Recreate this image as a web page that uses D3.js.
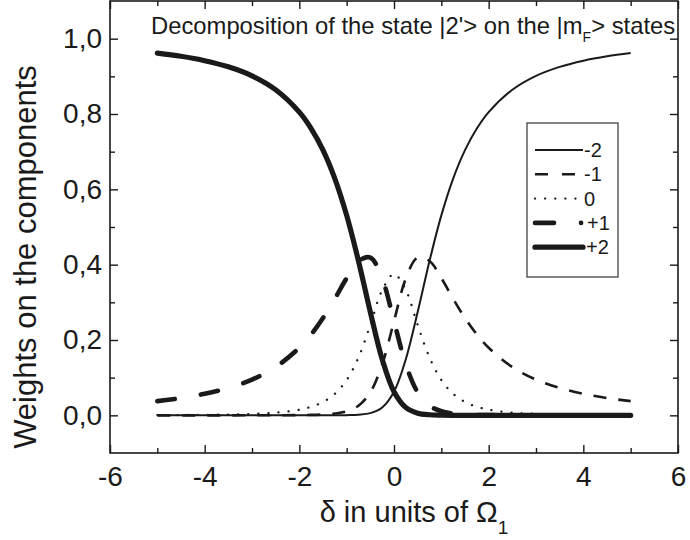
<!DOCTYPE html>
<html>
<head>
<meta charset="utf-8">
<script src="https://cdn.jsdelivr.net/npm/d3@7/dist/d3.min.js"></script>
<style>
  html, body { margin: 0; padding: 0; background: #ffffff; }
  svg { display: block; }
  text { font-family: "Liberation Sans", Arial, Helvetica, sans-serif; fill: #1a1a1a; }
</style>
</head>
<body>
<script>
// Detuning values (in units of Omega_1)
const delta = [-5, -4.5, -4, -3.5, -3, -2.5, -2, -1.75, -1.5, -1.25, -1, -0.75, -0.5, -0.25, 0,
               0.25, 0.5, 0.75, 1, 1.25, 1.5, 1.75, 2, 2.5, 3, 3.5, 4, 4.5, 5];

// Weight of |2'> on each |mF> component
const wMinus2 = [0, 0, 0, 0, 0, 0, 0, 0, 0.0001, 0.0001, 0.0005, 0.0016, 0.0058, 0.0206, 0.0625,
                 0.149, 0.2742, 0.4096, 0.5308, 0.6286, 0.7041, 0.7614, 0.805, 0.8644, 0.9013, 0.9252, 0.9416, 0.9532, 0.9617];
const wMinus1 = [0, 0, 0, 0, 0.0001, 0.0002, 0.0006, 0.0011, 0.0022, 0.0047, 0.0107, 0.0256, 0.0611, 0.135, 0.25,
                 0.3633, 0.4189, 0.4096, 0.3643, 0.3094, 0.2582, 0.2148, 0.1794, 0.1282, 0.0949, 0.0726, 0.0571, 0.0459, 0.0377];
const wZero   = [0.0006, 0.0008, 0.0013, 0.0021, 0.0038, 0.0071, 0.015, 0.0227, 0.0355, 0.0571, 0.0938, 0.1536, 0.24, 0.3322, 0.375,
                 0.3322, 0.24, 0.1536, 0.0938, 0.0571, 0.0355, 0.0227, 0.015, 0.0071, 0.0038, 0.0021, 0.0013, 0.0008, 0.0006];
const wPlus1  = [0.0377, 0.0459, 0.0571, 0.0726, 0.0949, 0.1282, 0.1794, 0.2148, 0.2582, 0.3094, 0.3643, 0.4096, 0.4189, 0.3633, 0.25,
                 0.135, 0.0611, 0.0256, 0.0107, 0.0047, 0.0022, 0.0011, 0.0006, 0.0002, 0.0001, 0, 0, 0, 0];
const wPlus2  = [0.9617, 0.9532, 0.9416, 0.9252, 0.9013, 0.8644, 0.805, 0.7614, 0.7041, 0.6286, 0.5308, 0.4096, 0.2742, 0.149, 0.0625,
                 0.0206, 0.0058, 0.0016, 0.0005, 0.0001, 0.0001, 0, 0, 0, 0, 0, 0, 0, 0];

const seriesNames = ["-2", "-1", "0", "+1", "+2"];

// Tick values and labels
const xMajor = [-6, -4, -2, 0, 2, 4, 6];
const xTickLabels = ["-6", "-4", "-2", "0", "2", "4", "6"];
const xMinor = [-5, -3, -1, 1, 3, 5];
const yMajor = [0, 0.2, 0.4, 0.6, 0.8, 1.0];
const yTickLabels = ["0,0", "0,2", "0,4", "0,6", "0,8", "1,0"];
const yMinor = [0.1, 0.3, 0.5, 0.7, 0.9];

// Line styles, one per series
const styles = [
  { width: 2.0, dash: null, cap: "butt" },
  { width: 2.6, dash: "13,12", cap: "butt" },
  { width: 2.3, dash: "0.1,10", cap: "round" },
  { width: 4.6, dash: "17.5,26.5", cap: "round" },
  { width: 5.2, dash: null, cap: "round" }
];
const legendDash = [null, "13,14", "0.1,10", "19,27,0.1,60", null];

const W = 690, H = 540;
const plotL = 110, plotR = 678, plotT = 1, plotB = 453;
const ink = "#1a1a1a";

const x = d3.scaleLinear().domain([-6, 6]).range([plotL, plotR]);
const y = d3.scaleLinear().domain([-0.1, 1.1]).range([plotB, plotT]);

const svg = d3.select("body").append("svg").attr("width", W).attr("height", H);

// Curves
const columns = [wMinus2, wMinus1, wZero, wPlus1, wPlus2];
const line = d3.line()
  .x(d => x(d[0]))
  .y(d => y(d[1]))
  .curve(d3.curveCatmullRom.alpha(0.5));

const plot = svg.append("g");
columns.forEach((vals, i) => {
  const pts = delta.map((d, j) => [d, vals[j]]);
  const s = styles[i];
  plot.append("path")
    .attr("d", line(pts))
    .attr("fill", "none")
    .attr("stroke", ink)
    .attr("stroke-width", s.width)
    .attr("stroke-linecap", s.cap)
    .attr("stroke-linejoin", "round")
    .attr("stroke-dasharray", s.dash);
});

// Axes (ticks point inward on all four sides)
function styleAxis(g, fontSize) {
  g.select(".domain").remove();
  g.selectAll(".tick line").attr("stroke", ink).attr("stroke-width", 1.4);
  g.selectAll(".tick text")
    .attr("fill", ink)
    .style("font-size", fontSize + "px")
    .style("font-family", "'Liberation Sans', Arial, sans-serif");
}

svg.append("g").attr("transform", `translate(0,${plotB})`)
  .call(d3.axisBottom(x).tickValues(xMajor).tickSize(-8).tickPadding(13)
        .tickFormat((d, i) => xTickLabels[i]))
  .call(g => styleAxis(g, 28));
svg.append("g").attr("transform", `translate(0,${plotB})`)
  .call(d3.axisBottom(x).tickValues(xMinor).tickSize(-5).tickFormat(""))
  .call(g => styleAxis(g, 0));
svg.append("g").attr("transform", `translate(0,${plotT})`)
  .call(d3.axisTop(x).tickValues(xMajor).tickSize(-8).tickFormat(""))
  .call(g => styleAxis(g, 0));
svg.append("g").attr("transform", `translate(0,${plotT})`)
  .call(d3.axisTop(x).tickValues(xMinor).tickSize(-5).tickFormat(""))
  .call(g => styleAxis(g, 0));

svg.append("g").attr("transform", `translate(${plotL},0)`)
  .call(d3.axisLeft(y).tickValues(yMajor).tickSize(-8).tickPadding(8)
        .tickFormat((d, i) => yTickLabels[i]))
  .call(g => styleAxis(g, 28));
svg.append("g").attr("transform", `translate(${plotL},0)`)
  .call(d3.axisLeft(y).tickValues(yMinor).tickSize(-5).tickFormat(""))
  .call(g => styleAxis(g, 0));
svg.append("g").attr("transform", `translate(${plotR},0)`)
  .call(d3.axisRight(y).tickValues(yMajor).tickSize(-8).tickFormat(""))
  .call(g => styleAxis(g, 0));
svg.append("g").attr("transform", `translate(${plotR},0)`)
  .call(d3.axisRight(y).tickValues(yMinor).tickSize(-5).tickFormat(""))
  .call(g => styleAxis(g, 0));

// Frame
svg.append("rect")
  .attr("x", plotL).attr("y", plotT)
  .attr("width", plotR - plotL).attr("height", plotB - plotT)
  .attr("fill", "none").attr("stroke", ink).attr("stroke-width", 1.6);

// Title inside the frame
const title = svg.append("text")
  .attr("x", 151).attr("y", 34)
  .style("font-size", "23.8px");
title.append("tspan").text("Decomposition of the state |2'> on the |m");
title.append("tspan").attr("dy", 8).attr("dx", 0).style("font-size", "14px").text("F");
title.append("tspan").attr("dy", -8).attr("dx", 0).text("> states");

// Axis titles
const xt = svg.append("text")
  .attr("x", 414).attr("y", 522)
  .attr("text-anchor", "middle")
  .style("font-size", "29px");
xt.append("tspan").text("δ in units of Ω");
xt.append("tspan").attr("dy", 12).style("font-size", "19px").text("1");

svg.append("text")
  .attr("transform", "translate(36,257) rotate(-90)")
  .attr("text-anchor", "middle")
  .style("font-size", "31px")
  .text("Weights on the components");

// Legend
const lg = svg.append("g");
lg.append("rect")
  .attr("x", 527).attr("y", 123).attr("width", 91).attr("height", 154)
  .attr("fill", "#ffffff").attr("stroke", "#333333").attr("stroke-width", 1.2);
seriesNames.forEach((name, i) => {
  const ly = 150 + i * 24.3;
  const s = styles[i];
  lg.append("line")
    .attr("x1", 535).attr("x2", i === 1 ? 575 : 583)
    .attr("y1", ly).attr("y2", ly)
    .attr("stroke", ink)
    .attr("stroke-width", s.width)
    .attr("stroke-linecap", s.cap)
    .attr("stroke-dasharray", legendDash[i]);
  lg.append("text")
    .attr("x", i === 3 ? 587 : (i === 4 ? 586 : 584)).attr("y", ly + 7)
    .style("font-size", "20px")
    .text(name);
});
</script>
</body>
</html>
